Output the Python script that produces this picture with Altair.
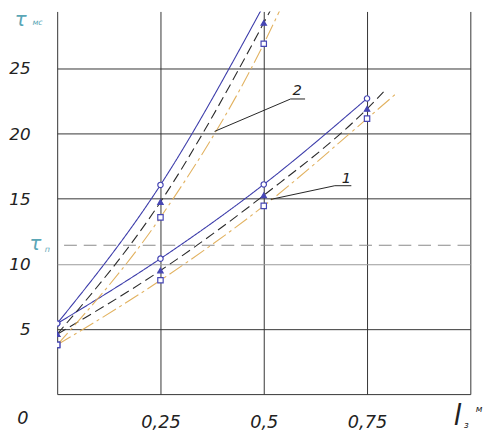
import altair as alt
import pandas as pd

# ---- data ----
x_g1 = [0, 0.25, 0.5, 0.75]
g1_blue = [5.42, 10.4, 16.1, 22.7]
g1_black = [4.6, 9.49, 15.26, 21.9]
g1_orange = [3.78, 8.74, 14.45, 21.15]
g1_black_end = [0.79, 23.2]
g1_orange_end = [0.82, 23.06]

x_g2 = [0, 0.25, 0.5]
g2_blue = [5.42, 16.06, 29.86]
g2_black = [4.6, 14.75, 28.5]
g2_orange = [3.78, 13.57, 26.9]
g2_black_end = [0.535, 30.6]
g2_orange_end = [0.56, 30.9]

tau_p = 11.43

series_names = ["blue", "black", "orange"]
series_colors = ["#3c3caa", "#2a2a2a", "#e2b260"]
series_dash = [[1, 0], [10, 5], [16, 4, 3, 4]]
series_shapes = ["circle", "triangle-up", "square"]
series_fill = ["#ffffff", "#4646b4", "#ffffff"]

callout_labels = ["2", "1"]
callout_x = [[0.381, 0.565, 0.600], [0.517, 0.672, 0.712]]
callout_y = [[20.17, 22.66, 22.66], [14.95, 16.0, 16.0]]
callout_text_x = [0.581, 0.700]
callout_text_y = [23.0, 16.2]

x_ticks = [0, 0.25, 0.5, 0.75, 1]
y_ticks = [0, 5, 10, 15, 20, 25]
y_tick_labels = ["5", "10", "15", "20", "25"]
y_tick_label_values = [5, 10, 15, 20, 25]
Y_MAX = 29.38

# ---- tables ----
line_rows, point_rows = [], []
groups = {
    "1": (x_g1, [g1_blue, g1_black, g1_orange], [None, g1_black_end, g1_orange_end]),
    "2": (x_g2, [g2_blue, g2_black, g2_orange], [None, g2_black_end, g2_orange_end]),
}
for g, (xs, ys_list, ends) in groups.items():
    for s, ys, end in zip(series_names, ys_list, ends):
        for xv, yv in zip(xs, ys):
            line_rows.append({"curve": g + s, "series": s, "x": xv, "y": yv})
            point_rows.append({"curve": g + s, "series": s, "x": xv, "y": yv})
        if end is not None:
            line_rows.append({"curve": g + s, "series": s, "x": end[0], "y": end[1]})
lines_df = pd.DataFrame(line_rows)
points_df = pd.DataFrame(point_rows)

call_rows = []
for lab, xs, ys in zip(callout_labels, callout_x, callout_y):
    for i, (xv, yv) in enumerate(zip(xs, ys)):
        call_rows.append({"lab": lab, "i": i, "x": xv, "y": yv})
call_df = pd.DataFrame(call_rows)
call_text_df = pd.DataFrame({"lab": callout_labels, "x": callout_text_x, "y": callout_text_y})
ylab_df = pd.DataFrame({"t": y_tick_labels, "y": y_tick_label_values, "x": [0] * len(y_tick_labels)})

xscale = alt.Scale(domain=[0, 1], nice=False, zero=False)
yscale = alt.Scale(domain=[0, Y_MAX], nice=False, zero=False)
FONT = "DejaVu Sans"

x_axis = alt.Axis(
    values=x_ticks, title=None, domain=False, ticks=False,
    grid=True, gridColor="#333333", gridWidth=1,
    labelExpr="(datum.value == 0 || datum.value == 1) ? '' : replace(format(datum.value, '.2~f'), '.', ',')",
    labelFont=FONT, labelFontStyle="italic", labelFontSize=18, labelColor="#222222",
    labelPadding=20, labelFlush=False,
)
y_axis = alt.Axis(
    values=y_ticks, title=None, domain=False, ticks=False,
    grid=True, gridWidth=1,
    gridColor={"condition": {"test": "datum.value === 10", "value": "#9a9a9a"}, "value": "#333333"},
    labels=False,
)


def X(field):
    return alt.X(field, type="quantitative", scale=xscale, axis=x_axis, title=None)


def Y(field):
    return alt.Y(field, type="quantitative", scale=yscale, axis=y_axis, title=None)


color_scale = alt.Scale(domain=series_names, range=series_colors)
dash_scale = alt.Scale(domain=series_names, range=series_dash)

lines = alt.Chart(lines_df).mark_line(interpolate="monotone", clip=True, strokeWidth=1.1).encode(
    x=X("x"), y=Y("y"),
    color=alt.Color("series:N", scale=color_scale, legend=None),
    strokeDash=alt.StrokeDash("series:N", scale=dash_scale, legend=None),
    detail="curve:N",
)

points = alt.Chart(points_df).mark_point(clip=True, size=30, strokeWidth=1.2, opacity=1).encode(
    x=X("x"), y=Y("y"),
    shape=alt.Shape("series:N", scale=alt.Scale(domain=series_names, range=series_shapes), legend=None),
    fill=alt.Fill("series:N", scale=alt.Scale(domain=series_names, range=series_fill), legend=None),
    stroke=alt.value("#4646b4"),
)

tau_line = alt.Chart(pd.DataFrame({"y": [tau_p]})).mark_rule(
    color="#8a8a8a", strokeDash=[13, 7], strokeWidth=1.2
).encode(y=Y("y"))

callouts = alt.Chart(call_df).mark_line(color="#222222", strokeWidth=1).encode(
    x=X("x"), y=Y("y"), detail="lab:N", order="i:Q",
)
callout_text = alt.Chart(call_text_df).mark_text(
    font=FONT, fontStyle="italic", fontSize=15, color="#222222", baseline="alphabetic"
).encode(x=X("x"), y=Y("y"), text="lab:N")

y_labels = alt.Chart(ylab_df).mark_text(
    font=FONT, fontStyle="italic", fontSize=17, color="#222222",
    align="right", baseline="middle", dx=-27, dy=1,
).encode(x=X("x"), y=Y("y"), text="t:N")

TEAL = "#5aa6b6"


def label(text, xv, yv, dx, dy, size, color, align="center"):
    return alt.Chart(pd.DataFrame({"t": [text], "x": [xv], "y": [yv]})).mark_text(
        font=FONT, fontStyle="italic", fontSize=size, color=color,
        align=align, baseline="alphabetic", dx=dx, dy=dy,
    ).encode(x=X("x"), y=Y("y"), text="t:N")


annots = [
    label("τ", 0, Y_MAX, -37, 15, 20, TEAL),
    label("мс", 0, Y_MAX, -20, 14, 8, TEAL),
    label("τ", 0, tau_p, -22, 5, 20, TEAL),
    label("п", 0, tau_p, -10, 7, 8, TEAL),
    label("0", 0, 0, -35, 30, 18, "#222222"),
    label("l", 1, 0, -13, 31, 28, "#222222"),
    label("з", 1, 0, -4, 34, 9, "#222222"),
    label("м", 1, 0, 9, 18, 9, "#222222"),
]

chart = alt.layer(tau_line, lines, points, callouts, callout_text, y_labels, *annots).properties(
    width=420, height=389,
    autosize=alt.AutoSizeParams(type="none"),
    padding={"left": 50, "top": 0, "right": 20, "bottom": 34},
    background="white",
).configure_view(stroke=None)

chart.save("out.html", embed_options={"renderer": "svg", "actions": False})
